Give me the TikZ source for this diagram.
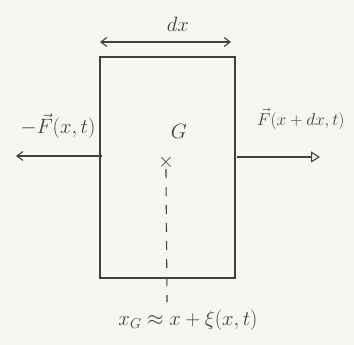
\documentclass[tikz,border=0pt]{standalone}
\usetikzlibrary{arrows.meta}
\definecolor{paper}{HTML}{F8F6F1}
\definecolor{ink}{HTML}{404040}
\begin{document}
\begin{tikzpicture}[x=1pt,y=-1pt,
  line/.style={draw=ink,line width=1.1pt},
  lbl/.style={text=ink,inner sep=1pt,font=\fontsize{20}{24}\selectfont}]
\fill[paper] (0,0) rectangle (354,345);
\useasboundingbox (0,0) rectangle (354,345);
\draw[line] (100,57) rectangle (235,278);
\coordinate (dxl) at (100,42);
\coordinate (dxr) at (231,42);
\draw[line,{Straight Barb[length=6pt,width=9pt]}-{Straight Barb[length=6pt,width=9pt]}] (dxl) -- (dxr);
\node[lbl] (dx) at (178,24) {$dx$};
\coordinate (ls) at (102,156);
\coordinate (le) at (16,156);
\draw[line,-{Straight Barb[length=6pt,width=9pt]}] (ls) -- (le);
\node[lbl] (fl) at (58,126) {$-\vec F(x,t)$};
\coordinate (rs) at (237,157);
\coordinate (re) at (320,157);
\draw[line,-{Triangle[open,length=9pt,width=11pt]}] (rs) -- (re);
\node[lbl,anchor=west,font=\fontsize{17}{20}\selectfont] (fr) at (256,119) {$\vec F(x+dx,t)$};
\node[lbl] (G) at (179,131) {$G$};
\node[text=ink,inner sep=0pt,font=\fontsize{20}{22}\selectfont] (X) at (166,162) {$\times$};
\coordinate (db) at (167,302);
\draw[line,dashed,dash pattern=on 9pt off 9pt] (X.south) -- (db);
\node[lbl] (xg) at (188,320) {$x_G \approx x+\xi(x,t)$};
\end{tikzpicture}
\end{document}
